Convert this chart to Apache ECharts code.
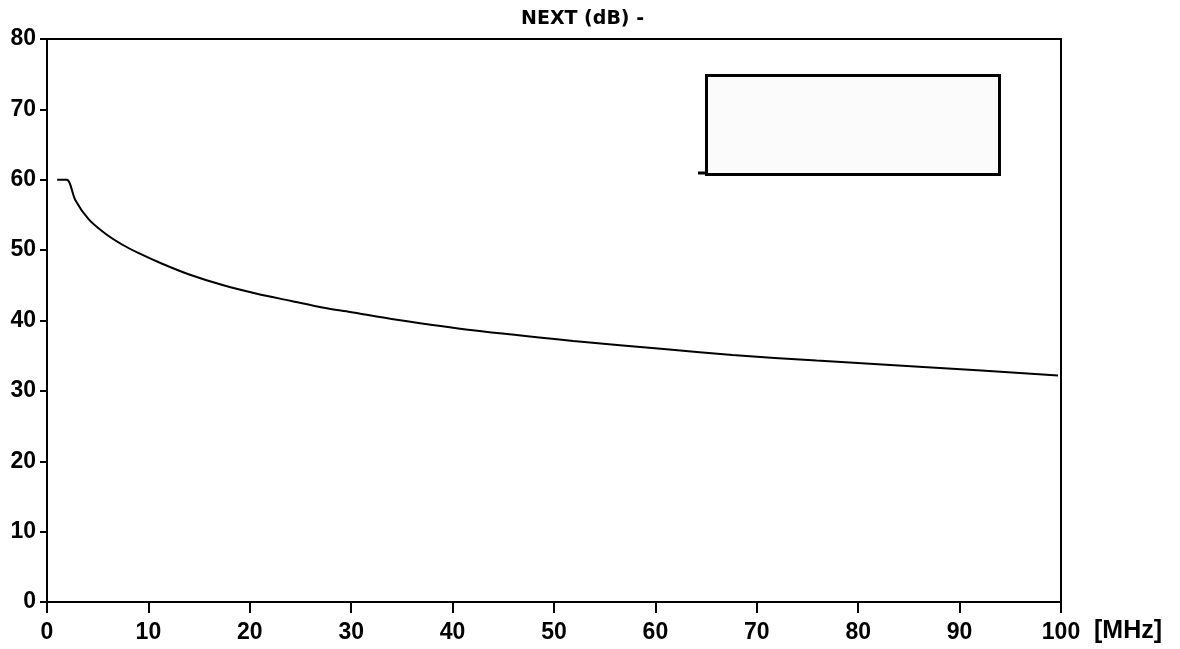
<!DOCTYPE html>
<html>
<head>
<meta charset="utf-8">
<script src="https://cdn.jsdelivr.net/npm/echarts@6/dist/echarts.min.js"></script>
<style>
  html, body { margin: 0; padding: 0; background: #fff; }
  #chart { width: 1180px; height: 649px; }
</style>
</head>
<body>
<div id="chart"></div>
<script>
// NEXT 极限曲线
const freqMHz = [1, 1.95, 2.8, 4.1, 5.7, 7.4, 9.0, 11.3, 14.1, 17.4, 20.7, 24, 27.3, 29.9, 34.5, 42, 51.9, 61.1, 67.6, 75.9, 86.4, 99.7]
const nextDb = [60, 60, 57.1, 54.4, 52.4, 50.8, 49.6, 48.1, 46.5, 45.0, 43.8, 42.8, 41.8, 41.2, 40.1, 38.6, 37.1, 35.9, 35.1, 34.3, 33.4, 32.2]
const xTicks = [0, 10, 20, 30, 40, 50, 60, 70, 80, 90, 100]
const yTicks = [0, 10, 20, 30, 40, 50, 60, 70, 80]

const labelFont = { fontFamily: 'Liberation Sans', fontWeight: 'bold', fontSize: 23, color: '#000' }

let myChart = echarts.init(document.getElementById('chart'))
myChart.setOption({
  backgroundColor: '#fff',
  animation: false,
  title: {
    text: 'NEXT (dB) -',
    left: 516,
    top: 5,
    textStyle: { fontFamily: 'DejaVu Sans', fontWeight: 'bold', fontSize: 19, color: '#000' }
  },
  grid: {
    left: 47, right: 119, top: 39, bottom: 47,
    show: true, borderColor: '#000', borderWidth: 2, backgroundColor: '#fff'
  },
  xAxis: {
    type: 'value',
    min: xTicks[0], max: xTicks[xTicks.length - 1], interval: 10,
    axisLine: { lineStyle: { color: '#000', width: 2 } },
    axisTick: { length: 11, lineStyle: { color: '#000', width: 2 } },
    axisLabel: Object.assign({ margin: 19 }, labelFont),
    splitLine: { show: false }
  },
  yAxis: {
    type: 'value',
    min: yTicks[0], max: yTicks[yTicks.length - 1], interval: 10,
    axisLine: { show: true, lineStyle: { color: '#000', width: 2 } },
    axisTick: { show: true, length: 7, lineStyle: { color: '#000', width: 2 } },
    axisLabel: Object.assign({ margin: 11 }, labelFont),
    splitLine: { show: false }
  },
  graphic: [
    {
      type: 'text', left: 1094, top: 619,
      style: { text: '[MHz]', font: 'bold 25px "Liberation Sans"', fill: '#000' }
    },
    {
      type: 'rect', left: 705, top: 74,
      shape: { width: 293, height: 99 },
      style: { fill: '#fbfbfb', stroke: '#000', lineWidth: 3 }
    },
    {
      type: 'line',
      shape: { x1: 698, y1: 173, x2: 705, y2: 173 },
      style: { stroke: '#000', lineWidth: 3 }
    }
  ],
  series: [
    {
      name: 'NEXT',
      type: 'line',
      data: freqMHz.map((f, i) => [f, nextDb[i]]),
      smooth: 0.3,
      showSymbol: false,
      lineStyle: { color: '#000', width: 2 }
    }
  ]
})
</script>
</body>
</html>
